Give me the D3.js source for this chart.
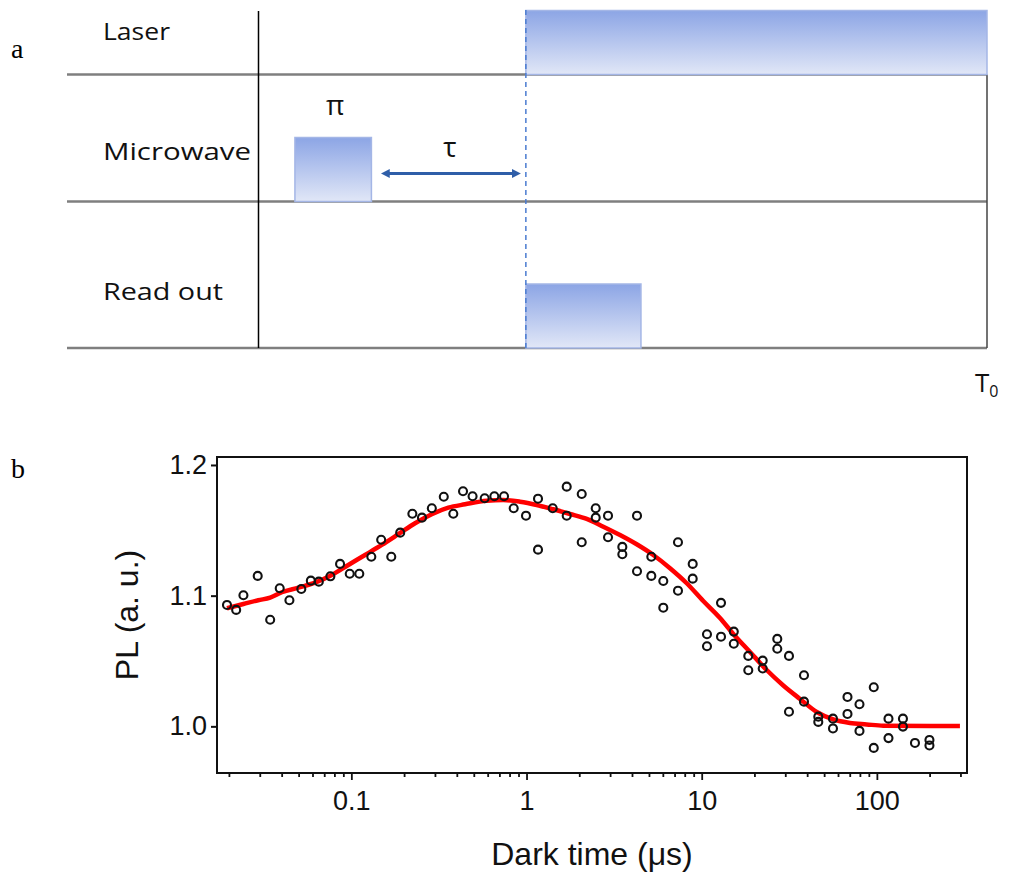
<!DOCTYPE html>
<html>
<head>
<meta charset="utf-8">
<script src="https://cdn.jsdelivr.net/npm/d3@7"></script>
<style>
  body { margin: 0; background: #fff; }
  svg { display: block; }
</style>
</head>
<body>
<svg id="fig" width="1014" height="873"></svg>
<script>
// ---------- panel a: pulse sequence ----------
const channels = ["Laser", "Microwave", "Read out"];
const pulseChannel = ["Laser", "Microwave", "Read out"];
const pulseStart = [0.367, 0.050, 0.367];   // fraction of one cycle T0
const pulseEnd   = [1.000, 0.155, 0.525];
const pulseLabel = ["", "π", ""];
const delayStart = 0.174, delayEnd = 0.354;  // free evolution τ
const delayLabel = "τ";

// ---------- panel b: PL vs dark time ----------
const darkTime = [0.0195, 0.0220, 0.0242, 0.0292, 0.0344, 0.0390, 0.0443, 0.0518, 0.0587, 0.0652,
  0.0759, 0.0862, 0.0979, 0.111, 0.130, 0.148, 0.169, 0.190, 0.223, 0.253,
  0.288, 0.337, 0.382, 0.434, 0.492, 0.577, 0.655, 0.744, 0.845, 0.993,
  1.163, 1.163, 1.411, 1.696, 1.696, 2.066, 2.066, 2.483, 2.483, 2.919,
  2.919, 3.523, 3.523, 4.273, 4.273, 5.157, 5.157, 6.037, 6.037, 7.322,
  7.322, 8.885, 8.885, 10.72, 10.72, 12.89, 12.89, 15.25, 15.25, 18.45,
  18.45, 22.30, 22.30, 27.01, 27.01, 31.50, 31.50, 38.37, 38.37, 46.30,
  46.30, 56.16, 56.16, 67.96, 67.96, 79.57, 79.57, 96.0, 96.0, 116.5,
  116.5, 140.9, 140.9, 165.0, 199.6, 199.6];
const plSignal = [1.0929, 1.0891, 1.1003, 1.1151, 1.0816, 1.1057, 1.0965, 1.1051, 1.1115, 1.1107,
  1.1148, 1.1243, 1.1168, 1.1168, 1.1298, 1.1428, 1.1298, 1.1482, 1.1627, 1.1597,
  1.1669, 1.1757, 1.1627, 1.1799, 1.1761, 1.1745, 1.1761, 1.1761, 1.1669, 1.1612,
  1.1742, 1.1352, 1.1669, 1.1834, 1.1612, 1.1778, 1.1409, 1.1669, 1.1597, 1.1612,
  1.1447, 1.1373, 1.1317, 1.1612, 1.1187, 1.1298, 1.1151, 1.1112, 1.0908, 1.1409,
  1.1038, 1.1243, 1.1130, 1.0705, 1.0613, 1.0945, 1.0686, 1.0725, 1.0632, 1.0539,
  1.0429, 1.0503, 1.0443, 1.0669, 1.0594, 1.0539, 1.0112, 1.0391, 1.0189, 1.0074,
  1.0034, 1.0059, 0.9984, 1.0225, 1.0095, 1.0169, 0.9965, 1.0299, 0.9835, 1.0059,
  0.9910, 1.0059, 0.9998, 0.9873, 0.9896, 0.9854];

// fitted curve
const fitTime = [0.0195, 0.0242, 0.0294, 0.0344, 0.0401, 0.0498, 0.0621, 0.0773, 0.0961, 0.1197,
  0.1491, 0.1854, 0.231, 0.2876, 0.3578, 0.4457, 0.5926, 0.7373, 0.9182, 1.143,
  1.422, 1.771, 2.206, 2.744, 3.418, 4.256, 5.292, 6.594, 8.212, 10.21,
  12.72, 15.15, 18.87, 23.50, 29.23, 36.40, 45.34, 56.38, 70.22, 87.45,
  108.8, 298];
const fitPL = [1.0904, 1.0936, 1.0965, 1.0985, 1.1026, 1.1061, 1.1099, 1.1158, 1.1235, 1.1311,
  1.1388, 1.1470, 1.1554, 1.1623, 1.1673, 1.1699, 1.1727, 1.1732, 1.1719, 1.1694,
  1.1661, 1.1625, 1.1587, 1.1528, 1.1464, 1.1393, 1.1311, 1.1210, 1.1095, 1.0959,
  1.0829, 1.0707, 1.0569, 1.0431, 1.0313, 1.0210, 1.0110, 1.0053, 1.0026, 1.0015,
  1.0005, 1.0002];

const plTicks = [1.0, 1.1, 1.2];
const timeTickLabels = [0.1, 1, 10, 100];

const svg = d3.select("#fig");
const SANS = "'Liberation Sans', Arial, sans-serif";
const DIAG = "'Open Sans', 'Noto Sans', sans-serif";
const SERIF = "'Liberation Serif', 'Times New Roman', serif";

// ====== panel a ======
const defs = svg.append("defs");
const grad = defs.append("linearGradient").attr("id", "pulseFill")
  .attr("x1", 0).attr("y1", 0).attr("x2", 0).attr("y2", 1);
grad.append("stop").attr("offset", "0%").attr("stop-color", "#8ca5e5");
grad.append("stop").attr("offset", "100%").attr("stop-color", "#e1e7f7");

defs.append("marker").attr("id", "tip")
  .attr("viewBox", "0 0 10 10").attr("refX", 5).attr("refY", 5)
  .attr("markerWidth", 3).attr("markerHeight", 3).attr("orient", "auto-start-reverse")
  .append("path").attr("d", "M0,0 L10,5 L0,10 z").attr("fill", "#2f5ea8");

const tx = d3.scaleLinear().domain([0, 1]).range([258.5, 987]);
const rowBase = d3.scaleOrdinal().domain(channels).range([74.5, 201.5, 348]);
const labelBase = d3.scaleOrdinal().domain(channels).range([40, 160, 300]);
const labelWidth = d3.scaleOrdinal().domain(channels).range([67, 148, 120]);
const pulseH = 64;
const gA = svg.append("g");

gA.selectAll("line.row").data(channels).join("line").attr("class", "row")
  .attr("x1", 67).attr("x2", tx(1))
  .attr("y1", d => rowBase(d)).attr("y2", d => rowBase(d))
  .attr("stroke", "#7f7f7f").attr("stroke-width", 2.5);

gA.append("line").attr("x1", tx(0)).attr("x2", tx(0)).attr("y1", 11).attr("y2", rowBase("Read out"))
  .attr("stroke", "#000").attr("stroke-width", 1.5);
gA.append("line").attr("x1", tx(1)).attr("x2", tx(1)).attr("y1", rowBase("Laser")).attr("y2", rowBase("Read out"))
  .attr("stroke", "#444").attr("stroke-width", 1.5);

gA.selectAll("text.ch").data(channels).join("text").attr("class", "ch")
  .attr("x", 103).attr("y", d => labelBase(d))
  .attr("font-family", DIAG).attr("font-size", 24).attr("fill", "#111")
  .attr("textLength", d => labelWidth(d)).attr("lengthAdjust", "spacingAndGlyphs")
  .text(d => d);

const pulses = pulseChannel.map((c, i) => ({ c, s: pulseStart[i], e: pulseEnd[i], label: pulseLabel[i] }));
gA.selectAll("rect.pulse").data(pulses).join("rect").attr("class", "pulse")
  .attr("x", d => tx(d.s)).attr("width", d => tx(d.e) - tx(d.s))
  .attr("y", d => rowBase(d.c) - pulseH).attr("height", pulseH)
  .attr("fill", "url(#pulseFill)").attr("stroke", "#a4b6e6").attr("stroke-width", 1.5);

gA.selectAll("text.plabel").data(pulses.filter(d => d.label)).join("text").attr("class", "plabel")
  .attr("x", d => (tx(d.s) + tx(d.e)) / 2 + 2).attr("y", d => rowBase(d.c) - pulseH - 23)
  .attr("text-anchor", "middle").attr("font-family", DIAG).attr("font-size", 28).attr("fill", "#111")
  .text(d => d.label);

// laser switch-on marker
gA.append("line").attr("x1", tx(pulseStart[0])).attr("x2", tx(pulseStart[0]))
  .attr("y1", 10).attr("y2", rowBase("Read out"))
  .attr("stroke", "#4a7bd0").attr("stroke-width", 1.5).attr("stroke-dasharray", "5,4");

// free evolution arrow
gA.append("line").attr("x1", tx(delayStart)).attr("x2", tx(delayEnd))
  .attr("y1", 173.5).attr("y2", 173.5)
  .attr("stroke", "#2f5ea8").attr("stroke-width", 3)
  .attr("marker-start", "url(#tip)").attr("marker-end", "url(#tip)");
gA.append("text").attr("x", (tx(delayStart) + tx(delayEnd)) / 2 - 1).attr("y", 157)
  .attr("text-anchor", "middle").attr("font-family", DIAG).attr("font-size", 28).attr("fill", "#111")
  .text(delayLabel);

const t0 = gA.append("text").attr("x", 975).attr("y", 392)
  .attr("font-family", DIAG).attr("font-size", 26).attr("fill", "#111");
t0.append("tspan").text("T");
t0.append("tspan").attr("font-size", 16).attr("dy", 5).text("0");

svg.append("text").attr("x", 11).attr("y", 58).attr("font-family", SERIF).attr("font-size", 28).text("a");
svg.append("text").attr("x", 11).attr("y", 478).attr("font-family", SERIF).attr("font-size", 28).text("b");

// ====== panel b ======
const frame = { left: 217, right: 967, top: 457, bottom: 773 };
const x = d3.scaleLog().domain([0.0171, 327]).range([frame.left, frame.right]);
const y = d3.scaleLinear().domain([0.9643, 1.2061]).range([frame.bottom, frame.top]);
const gB = svg.append("g");

// fitted curve
const fit = fitTime.map((t, i) => [t, fitPL[i]]);
gB.append("path").datum(fit)
  .attr("d", d3.line().x(d => x(d[0])).y(d => y(d[1])).curve(d3.curveMonotoneX))
  .attr("fill", "none").attr("stroke", "#ff0000").attr("stroke-width", 4.5).attr("stroke-linejoin", "round");

// measured points
const pts = darkTime.map((t, i) => [t, plSignal[i]]);
gB.selectAll("circle").data(pts).join("circle")
  .attr("cx", d => x(d[0])).attr("cy", d => y(d[1])).attr("r", 4)
  .attr("fill", "none").attr("stroke", "#111").attr("stroke-width", 2.1);

// frame
gB.append("rect").attr("x", frame.left).attr("y", frame.top)
  .attr("width", frame.right - frame.left).attr("height", frame.bottom - frame.top)
  .attr("fill", "none").attr("stroke", "#111").attr("stroke-width", 2);

// y axis
const yAxis = gB.append("g").attr("transform", `translate(${frame.left},0)`)
  .call(d3.axisLeft(y).tickValues(plTicks).tickFormat(d3.format(".1f")).tickSize(6).tickPadding(4));
yAxis.select(".domain").remove();
yAxis.selectAll("line").attr("stroke", "#111").attr("stroke-width", 2);
yAxis.selectAll("text").attr("font-family", SANS).attr("font-size", 27).attr("fill", "#111");

// x axis: minor ticks + labelled decades
const majors = new Set(timeTickLabels.map(v => Math.round(Math.log10(v))));
const isMajor = v => Math.abs(Math.log10(v) - Math.round(Math.log10(v))) < 1e-9;
const xTicks = x.ticks();
const xAxis = gB.append("g").attr("transform", `translate(0,${frame.bottom})`)
  .call(d3.axisBottom(x).tickValues(xTicks).tickSize(4).tickPadding(14)
    .tickFormat(v => (isMajor(v) && majors.has(Math.round(Math.log10(v)))) ? d3.format("~g")(v) : ""));
xAxis.select(".domain").remove();
xAxis.selectAll("line").attr("stroke", "#111").attr("stroke-width", 1.8)
  .attr("y2", v => isMajor(v) ? 7 : 4);
xAxis.selectAll("text").attr("font-family", SANS).attr("font-size", 27).attr("fill", "#111");

// axis titles
gB.append("text").attr("x", (frame.left + frame.right) / 2).attr("y", 865)
  .attr("text-anchor", "middle").attr("font-family", SANS).attr("font-size", 32).attr("fill", "#111")
  .text("Dark time (μs)");
gB.append("text").attr("transform", `translate(138,${(frame.top + frame.bottom) / 2}) rotate(-90)`)
  .attr("text-anchor", "middle").attr("font-family", SANS).attr("font-size", 32).attr("fill", "#111")
  .text("PL (a. u.)");
</script>
</body>
</html>
